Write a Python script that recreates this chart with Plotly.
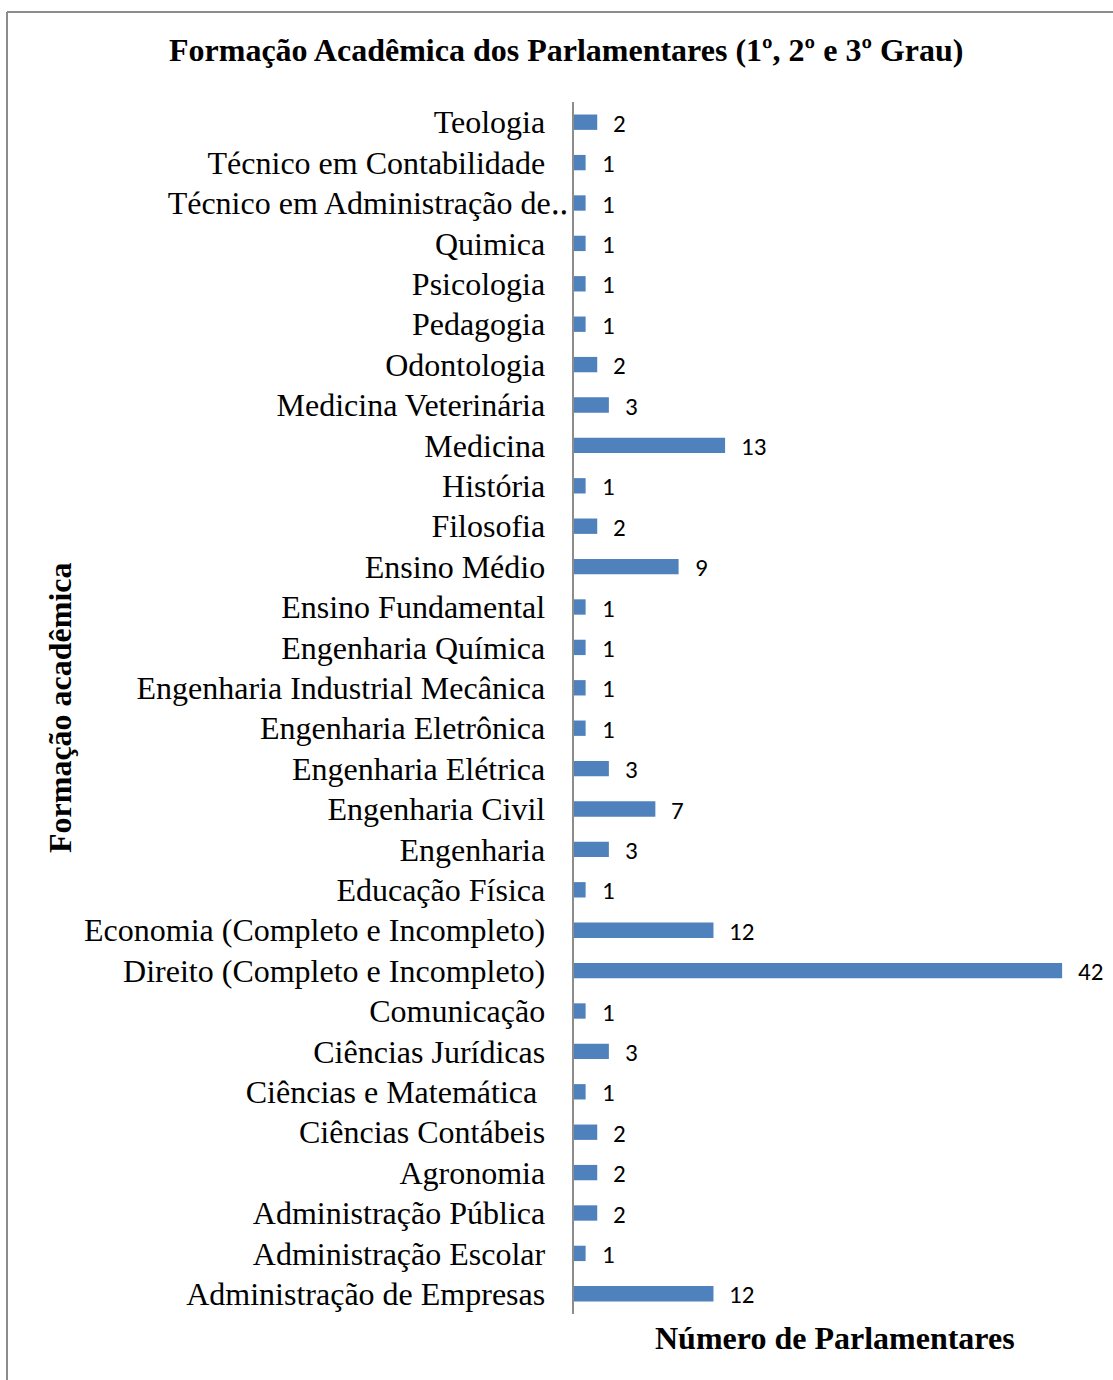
import plotly.graph_objects as go

# Academic background of the members of parliament (bottom to top)
categorias = [
    "Administração de Empresas",
    "Administração Escolar",
    "Administração Pública",
    "Agronomia",
    "Ciências Contábeis",
    "Ciências e Matemática ",
    "Ciências Jurídicas",
    "Comunicação",
    "Direito (Completo e Incompleto)",
    "Economia (Completo e Incompleto)",
    "Educação Física",
    "Engenharia",
    "Engenharia Civil",
    "Engenharia Elétrica",
    "Engenharia Eletrônica",
    "Engenharia Industrial Mecânica",
    "Engenharia Química",
    "Ensino Fundamental",
    "Ensino Médio",
    "Filosofia",
    "História",
    "Medicina",
    "Medicina Veterinária",
    "Odontologia",
    "Pedagogia",
    "Psicologia",
    "Quimica",
    "Técnico em Administração de‥",
    "Técnico em Contabilidade",
    "Teologia",
]
parlamentares = [12, 1, 2, 2, 2, 1, 3, 1, 42, 12, 1, 3, 7, 3, 1, 1, 1, 1, 9, 2, 1, 13, 3, 2, 1, 1, 1, 1, 1, 2]

titulo = "Formação Acadêmica dos Parlamentares (1º, 2º e 3º Grau)"
titulo_x = "Número de Parlamentares"
titulo_y = "Formação acadêmica"

BAR_COLOR = "#4f81bd"
LINE_COLOR = "#8c8c8c"
SERIF = "Liberation Serif, Times New Roman, serif"
SANS = "Carlito, Calibri, Liberation Sans, Arial, sans-serif"

W, H = 1113, 1380
ML, MR, MT, MB = 574, 16, 102, 66
PW, PH = W - ML - MR, H - MT - MB


def px_x(p):
    return (p - ML) / PW


def px_y(p):
    return (H - MB - p) / PH


# tick labels right-aligned with a small gap before the axis line
def rotulo(c):
    if c.endswith("‥"):
        return c
    return c + "\u00a0\u00a0\u2009"


fig = go.Figure(
    go.Bar(
        x=parlamentares,
        y=categorias,
        orientation="h",
        marker=dict(color=BAR_COLOR, line=dict(width=0)),
        width=0.38,
        hoverinfo="x+y",
    )
)

annotations = []
for c, v in zip(categorias, parlamentares):
    annotations.append(
        dict(
            x=v, y=c, xref="x", yref="y",
            text=str(v), showarrow=False,
            xanchor="left", yanchor="middle", xshift=14, yshift=-1,
            font=dict(family=SANS, size=25, color="#000000"),
        )
    )

annotations += [
    dict(
        x=px_x(566), y=px_y(50), xref="paper", yref="paper",
        xanchor="center", yanchor="middle",
        text="<b>" + titulo + "</b>", showarrow=False,
        font=dict(family=SERIF, size=32, color="#000000"),
    ),
    dict(
        x=px_x(835), y=px_y(1338), xref="paper", yref="paper",
        xanchor="center", yanchor="middle",
        text="<b>" + titulo_x + "</b>", showarrow=False,
        font=dict(family=SERIF, size=32, color="#000000"),
    ),
    dict(
        x=px_x(60), y=px_y(708), xref="paper", yref="paper",
        xanchor="center", yanchor="middle", textangle=-90,
        text="<b>" + titulo_y + "</b>", showarrow=False,
        font=dict(family=SERIF, size=32, color="#000000"),
    ),
]

# outer frame (top and left edges visible)
shapes = [
    dict(type="line", xref="paper", yref="paper",
         x0=px_x(7), x1=px_x(W + 5), y0=px_y(12), y1=px_y(12),
         line=dict(color=LINE_COLOR, width=2)),
    dict(type="line", xref="paper", yref="paper",
         x0=px_x(7), x1=px_x(7), y0=px_y(12), y1=px_y(H + 5),
         line=dict(color=LINE_COLOR, width=2)),
]

fig.update_layout(
    width=W, height=H,
    margin=dict(l=ML, r=MR, t=MT, b=MB, autoexpand=False),
    paper_bgcolor="white", plot_bgcolor="white",
    showlegend=False,
    annotations=annotations,
    shapes=shapes,
    xaxis=dict(
        range=[0, 45], showgrid=False, zeroline=False,
        showticklabels=False, ticks="", showline=False, fixedrange=True,
    ),
    yaxis=dict(
        categoryorder="array", categoryarray=categorias,
        tickmode="array", tickvals=categorias,
        ticktext=[rotulo(c) for c in categorias],
        showgrid=False, zeroline=False, ticks="",
        showline=True, linecolor=LINE_COLOR, linewidth=2,
        ticklabelstandoff=-2,
        tickfont=dict(family=SERIF, size=32, color="#000000"),
        fixedrange=True,
    ),
)

fig.write_html("out.html", config={"displayModeBar": False})
